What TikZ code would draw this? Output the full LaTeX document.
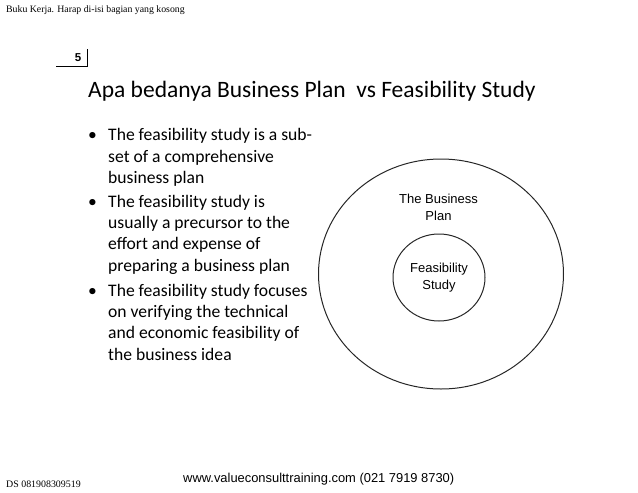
\documentclass[tikz,border=0pt]{standalone}
\usepackage{fontspec}
\setmainfont{Carlito}
\newfontfamily\arialf{Liberation Sans}
\newfontfamily\timesf{Liberation Serif}
\newcommand{\bulmark}{\hspace*{-2pt}\makebox[20pt][l]{•}}
\newcommand{\bulind}{\hspace*{18pt}}
\usetikzlibrary{shapes.geometric}
\tikzset{
  px/.style={x=1pt,y=-1pt},
  hdr/.style={inner sep=0pt,anchor=west,font=\timesf\fontsize{9.8}{12}\selectfont},
  ttl/.style={inner sep=0pt,anchor=west,font=\fontsize{23.5}{28}\selectfont},
  bul/.style={inner sep=0pt,anchor=north west,align=left,font=\fontsize{17.6}{21.2}\selectfont},
  lab/.style={inner sep=0pt,align=center,font=\arialf\fontsize{13}{16.4}\selectfont},
  ring/.style={draw=black!85,line width=1pt,ellipse,inner sep=0pt},
}
\begin{document}
\begin{tikzpicture}[px]
\useasboundingbox (0,0) rectangle (638,493);
\node[hdr] (head) at (6,10) {Buku Kerja. Harap di-isi bagian yang kosong};
\coordinate (cnA) at (56,66.5);
\coordinate (cnB) at (87,66.5);
\coordinate (cnC) at (87,49);
\draw[line width=0.9pt] (cnA) -- (cnB) -- (cnC);
\node[inner sep=0pt,font=\arialf\bfseries\fontsize{11.5}{13}\selectfont] (pg) at (78,58) {5};
\node[ttl] (title) at (88,91) {Apa bedanya Business Plan\ \ vs Feasibility Study};
\node[bul] (b1) at (90,128.5) {\bulmark The feasibility study is a sub-\\\bulind set of a comprehensive\\\bulind business plan};
\node[bul] (b2) at (90,195) {\bulmark The feasibility study is\\\bulind usually a precursor to the\\\bulind effort and expense of\\\bulind preparing a business plan};
\node[bul] (b3) at (90,284) {\bulmark The feasibility study focuses\\\bulind on verifying the technical\\\bulind and economic feasibility of\\\bulind the business idea};
\node[ring,minimum width=245pt,minimum height=230pt] (outer) at (441,274) {};
\node[ring,minimum width=92pt,minimum height=87pt] (inner) at (439,277.5) {};
\node[lab] (bp) at (438.5,207.5) {The Business\\Plan};
\node[lab] (fs) at (439,277.5) {Feasibility\\Study};
\node[inner sep=0pt,anchor=west,font=\timesf\fontsize{9.9}{12}\selectfont] (ds) at (6,484) {DS 081908309519};
\node[inner sep=0pt,anchor=west,font=\arialf\fontsize{12.9}{15}\selectfont] (web) at (183,479) {www.valueconsulttraining.com (021 7919 8730)};
\end{tikzpicture}
\end{document}
